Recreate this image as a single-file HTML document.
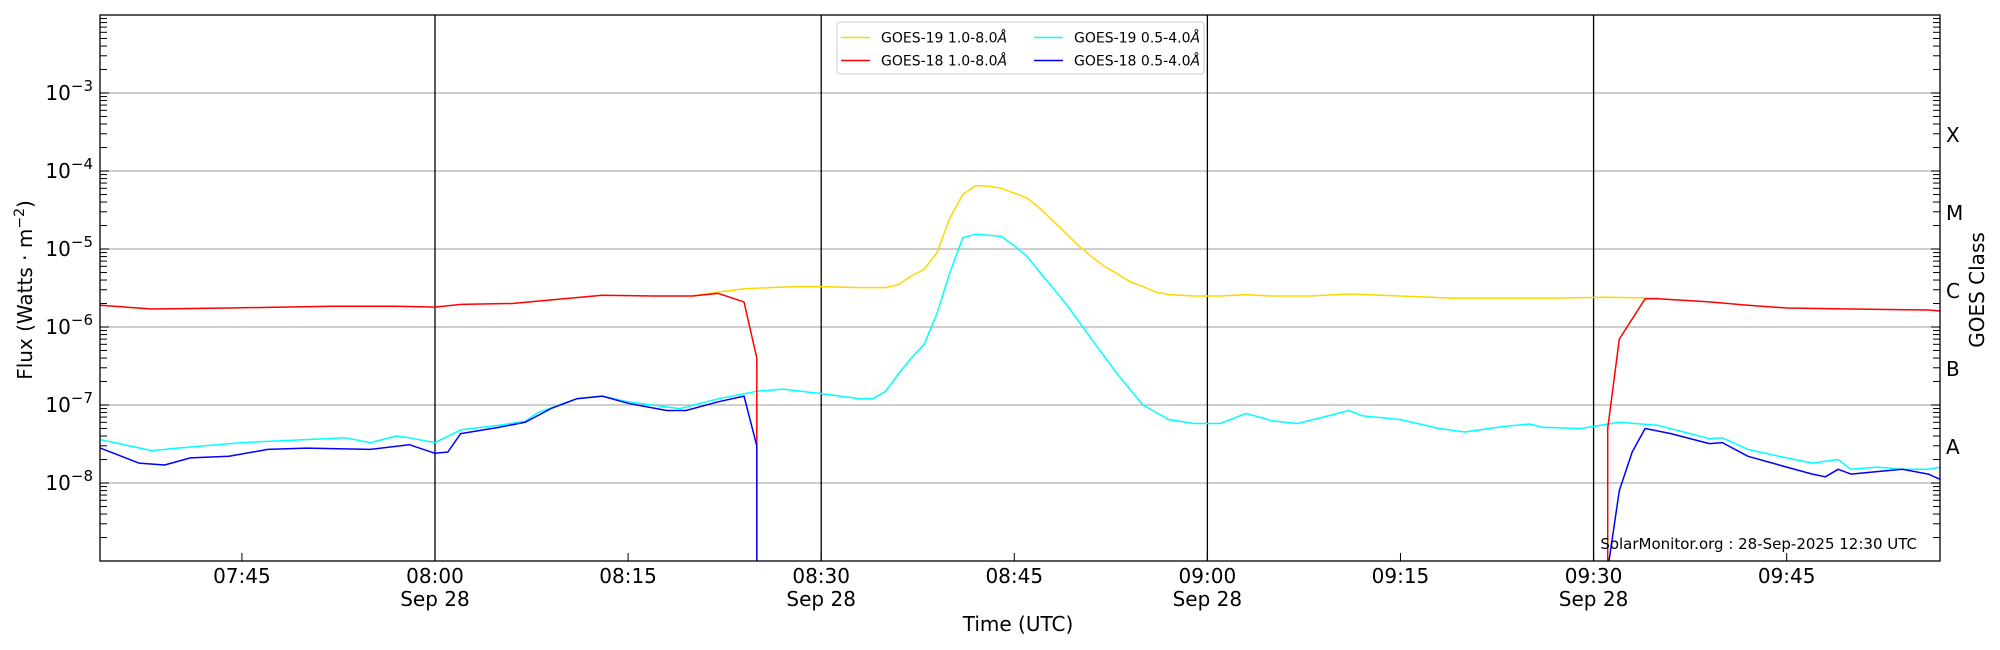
<!DOCTYPE html>
<html><head><meta charset="utf-8"><style>
body{margin:0;background:#fff;}
svg{display:block;font-family:"DejaVu Sans","Liberation Sans",sans-serif;}
</style></head><body>
<svg id="s" width="2000" height="650" xmlns="http://www.w3.org/2000/svg">
<defs><clipPath id="c"><rect x="100" y="15" width="1840" height="546"/></clipPath></defs>
<rect width="2000" height="650" fill="#fff"/>
<g id="grid"></g>
<g id="series" clip-path="url(#c)"></g>
<g id="ticks"></g>
<rect x="100" y="15" width="1840" height="546" fill="none" stroke="#000" stroke-width="1.3"/>
<g font-size="20" fill="#000" id="labels"></g>
<text x="1018" y="631" font-size="20" text-anchor="middle">Time (UTC)</text>
<text transform="translate(32,290) rotate(-90)" font-size="20" text-anchor="middle">Flux (Watts · m<tspan dy="-8" font-size="14">−2</tspan><tspan dy="8">)</tspan></text>
<text transform="translate(1984,290) rotate(-90)" font-size="20" text-anchor="middle">GOES Class</text>
<text x="1917" y="549" font-size="15" text-anchor="end">SolarMonitor.org : 28-Sep-2025 12:30 UTC</text>
<g>
<rect x="837" y="22" width="367" height="52" rx="3" fill="#fff" fill-opacity="0.8" stroke="#ccc"/>
<line x1="841" y1="37.5" x2="870" y2="37.5" stroke="#ffd700" stroke-width="1.5"/>
<line x1="841" y1="60.5" x2="870" y2="60.5" stroke="#ff0000" stroke-width="1.5"/>
<line x1="1034" y1="37.5" x2="1063" y2="37.5" stroke="#00ffff" stroke-width="1.5"/>
<line x1="1034" y1="60.5" x2="1063" y2="60.5" stroke="#0000ff" stroke-width="1.5"/>
<g font-size="14"><text x="881" y="42.5">GOES-19 1.0-8.0<tspan font-style="italic">Å</tspan></text>
<text x="881" y="65.5">GOES-18 1.0-8.0<tspan font-style="italic">Å</tspan></text>
<text x="1074" y="42.5">GOES-19 0.5-4.0<tspan font-style="italic">Å</tspan></text>
<text x="1074" y="65.5">GOES-18 0.5-4.0<tspan font-style="italic">Å</tspan></text></g>
</g>
</svg>
<script>
var NS="http://www.w3.org/2000/svg";
function X(t){return 435+t*12.873;}
function Y(f){return 15+(-2-Math.log10(f))*78.0;}
function el(p,n,a){var e=document.createElementNS(NS,n);for(var k in a)e.setAttribute(k,a[k]);p.appendChild(e);return e;}
var g=document.getElementById('grid'),tk=document.getElementById('ticks'),lb=document.getElementById('labels'),sr=document.getElementById('series');
for(var d=-8;d<=-3;d++){var y=Y(Math.pow(10,d));el(g,'line',{x1:100,x2:1940,y1:y,y2:y,stroke:'#b0b0b0','stroke-width':1.2});
 var t=el(lb,'text',{x:93,y:y+7,'text-anchor':'end'});t.innerHTML='10<tspan dy="-9" font-size="15">−'+(-d)+'</tspan>';}
for(var d=-9;d<-2;d++){for(var m=1;m<10;m++){var y=Y(m*Math.pow(10,d));if(y<15||y>561.5)continue;var L=m==1?9:7;
 el(tk,'line',{x1:100,x2:100+L,y1:y,y2:y,stroke:'#000','stroke-width':1});
 el(tk,'line',{x1:1940,x2:1940-L,y1:y,y2:y,stroke:'#000','stroke-width':1});}}
[[-15,'07:45'],[0,'08:00',1],[15,'08:15'],[30,'08:30',1],[45,'08:45'],[60,'09:00',1],[75,'09:15'],[90,'09:30',1],[105,'09:45']].forEach(function(a){
 var x=X(a[0]);el(tk,'line',{x1:x,x2:x,y1:561,y2:553,stroke:'#000','stroke-width':1});
 var t=el(lb,'text',{x:x,y:583,'text-anchor':'middle'});t.textContent=a[1];
 if(a[2]){var t2=el(lb,'text',{x:x,y:606,'text-anchor':'middle'});t2.textContent='Sep 28';
 el(g,'line',{x1:x,x2:x,y1:15,y2:561,stroke:'#000','stroke-width':1.3});}});
['X','M','C','B','A'].forEach(function(c,i){var t=el(lb,'text',{x:1946,y:142+i*78});t.textContent=c;});
function line(pts,col){el(sr,'polyline',{points:pts.map(function(p){return X(p[0]).toFixed(1)+','+Y(p[1]).toFixed(1)}).join(' '),fill:'none',stroke:col,'stroke-width':1.5,'stroke-linejoin':'round'});}
var yel=[[20,2.5e-6],[22,2.8e-6],[24,3.1e-6],[28,3.3e-6],[30,3.3e-6],[33,3.2e-6],[35,3.2e-6],[36,3.5e-6],[37,4.5e-6],[38,5.5e-6],[39,9e-6],[40,2.5e-5],[41,5e-5],[42,6.5e-5],[43,6.4e-5],[44,6e-5],[45,5.2e-5],[46,4.5e-5],[47,3.3e-5],[48,2.3e-5],[49,1.6e-5],[50,1.1e-5],[51,8e-6],[52,6e-6],[53,4.8e-6],[54,3.8e-6],[55,3.3e-6],[56,2.8e-6],[57,2.6e-6],[59,2.5e-6],[61,2.5e-6],[63,2.6e-6],[65,2.5e-6],[68,2.5e-6],[71,2.65e-6],[75,2.5e-6],[79,2.35e-6],[83,2.35e-6],[87,2.35e-6],[91,2.4e-6],[95,2.35e-6]];
var cy=[[-26,3.6e-8],[-22,2.6e-8],[-20,2.8e-8],[-15,3.3e-8],[-10,3.6e-8],[-7,3.8e-8],[-5,3.3e-8],[-3,4e-8],[-2,3.8e-8],[0,3.3e-8],[2,4.8e-8],[5,5.5e-8],[7,6.2e-8],[8,8e-8],[11,1.2e-7],[13,1.3e-7],[15,1.1e-7],[19,9e-8],[22,1.2e-7],[25,1.5e-7],[27,1.6e-7],[30,1.4e-7],[33,1.2e-7],[34,1.2e-7],[35,1.5e-7],[36,2.5e-7],[37,4e-7],[38,6e-7],[39,1.5e-6],[40,5e-6],[41,1.4e-5],[42,1.55e-5],[43,1.5e-5],[44,1.45e-5],[45,1.1e-5],[46,8e-6],[47,5e-6],[49,2e-6],[51,7e-7],[53,2.5e-7],[55,1e-7],[57,6.5e-8],[59,5.8e-8],[61,5.8e-8],[63,7.8e-8],[65,6.3e-8],[67,5.8e-8],[69,7e-8],[71,8.5e-8],[72,7.3e-8],[75,6.5e-8],[78,5e-8],[80,4.5e-8],[83,5.3e-8],[85,5.7e-8],[86,5.2e-8],[89,5e-8],[92,6e-8],[95,5.5e-8],[97,4.5e-8],[99,3.7e-8],[100,3.8e-8],[102,2.7e-8],[105,2.1e-8],[107,1.8e-8],[109,2e-8],[110,1.5e-8],[112,1.6e-8],[114,1.5e-8],[116,1.5e-8],[117,1.6e-8]];
var rd1=[[-26,1.9e-6],[-22,1.7e-6],[-16,1.75e-6],[-8,1.85e-6],[-3,1.85e-6],[0,1.8e-6],[2,1.95e-6],[6,2e-6],[10,2.3e-6],[13,2.55e-6],[17,2.5e-6],[20,2.5e-6],[22,2.7e-6],[24,2.1e-6],[25,4e-7],[25,1e-10]];
var rd2=[[91.1,1e-10],[91.1,5e-8],[92,7e-7],[94,2.3e-6],[95,2.3e-6],[99,2.1e-6],[102,1.9e-6],[105,1.75e-6],[110,1.7e-6],[116,1.65e-6],[117,1.6e-6]];
var bl1=[[-26,2.8e-8],[-23,1.8e-8],[-21,1.7e-8],[-19,2.1e-8],[-16,2.2e-8],[-13,2.7e-8],[-10,2.8e-8],[-5,2.7e-8],[-2,3.1e-8],[0,2.4e-8],[1,2.5e-8],[2,4.3e-8],[5,5.2e-8],[7,6e-8],[9,9e-8],[11,1.2e-7],[13,1.3e-7],[15,1.05e-7],[18,8.5e-8],[19.5,8.5e-8],[22,1.1e-7],[24,1.3e-7],[25,3e-8],[25,1e-10]];
var bl2=[[91.2,1e-9],[92,8e-9],[93,2.5e-8],[94,5e-8],[96,4.3e-8],[99,3.2e-8],[100,3.3e-8],[102,2.2e-8],[105,1.6e-8],[107,1.3e-8],[108,1.2e-8],[109,1.5e-8],[110,1.3e-8],[112,1.4e-8],[114,1.5e-8],[116,1.3e-8],[117,1.1e-8]];
line(yel,'#ffd700');line(cy,'#00ffff');line(rd1,'#ff0000');line(rd2,'#ff0000');line(bl1,'#0000ff');line(bl2,'#0000ff');
</script>
</body></html>
